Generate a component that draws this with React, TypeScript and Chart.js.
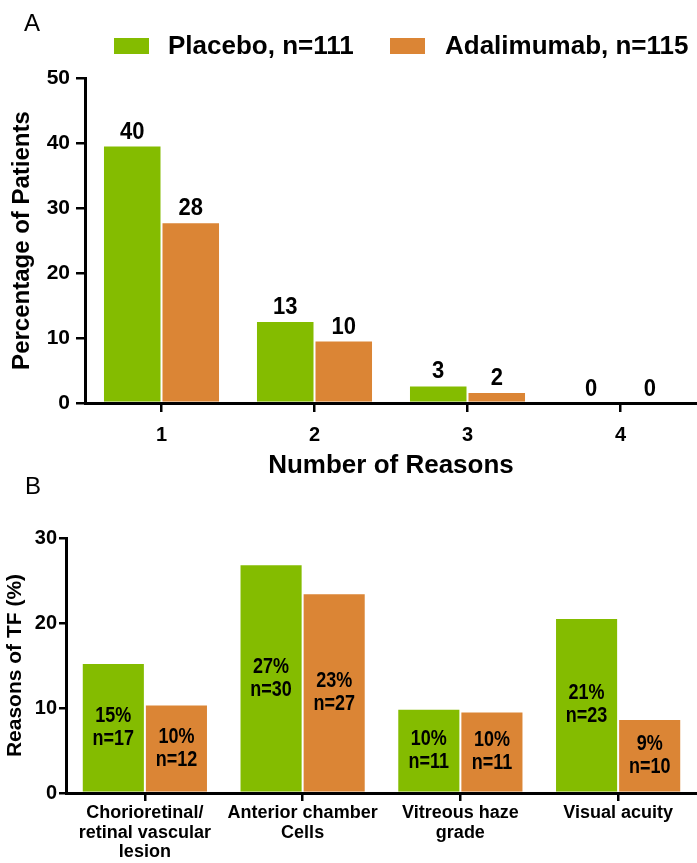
import React, { useEffect, useRef } from "react";
import { Chart, registerables } from "chart.js";
Chart.register(...registerables);

// ---------- Data ----------
const reasonCounts = ["1", "2", "3", "4"];
const placeboA = [39.6, 12.6, 2.7, 0];
const adalimumabA = [27.8, 9.6, 1.7, 0];
const placeboALabels = ["40", "13", "3", "0"];
const adalimumabALabels = ["28", "10", "2", "0"];

const tfReasons = [
  ["Chorioretinal/", "retinal vascular", "lesion"],
  ["Anterior chamber", "Cells"],
  ["Vitreous haze", "grade"],
  ["Visual acuity"],
];
const placeboB = [15.3, 26.9, 9.9, 20.6];
const adalimumabB = [10.4, 23.5, 9.6, 8.7];
const placeboBPct = ["15%", "27%", "10%", "21%"];
const placeboBN = ["n=17", "n=30", "n=11", "n=23"];
const adalimumabBPct = ["10%", "23%", "10%", "9%"];
const adalimumabBN = ["n=12", "n=27", "n=11", "n=10"];

const seriesNames = ["Placebo, n=111", "Adalimumab, n=115"];
const seriesColors = ["#84BC00", "#DB8535"];

const FAMILY = "'Liberation Sans', Arial, Helvetica, sans-serif";

function stretchedText(ctx: CanvasRenderingContext2D, text: string, x: number, y: number, font: string, sy: number) {
  ctx.save();
  ctx.translate(x, y);
  ctx.scale(1, sy);
  ctx.font = font;
  ctx.fillText(text, 0, 0);
  ctx.restore();
}

function PanelA() {
  const ref = useRef<HTMLCanvasElement | null>(null);
  useEffect(() => {
    const canvas = ref.current!;
    const labelsPlugin = {
      id: "labelsA",
      afterDatasetsDraw(chart: any) {
        const ctx = chart.ctx;
        ctx.save();
        ctx.fillStyle = "#000";
        ctx.textAlign = "center";
        ctx.textBaseline = "alphabetic";
        const texts = [placeboALabels, adalimumabALabels];
        chart.data.datasets.forEach((_: any, di: number) => {
          const meta = chart.getDatasetMeta(di);
          meta.data.forEach((bar: any, i: number) => {
            stretchedText(ctx, texts[di][i], bar.x, bar.y - 7, `bold 22px ${FAMILY}`, 1.1);
          });
        });
        ctx.restore();
      },
      afterDraw(chart: any) {
        const ctx = chart.ctx;
        ctx.save();
        ctx.fillStyle = "#000";
        ctx.textBaseline = "middle";
        ctx.textAlign = "left";
        ctx.font = `24px ${FAMILY}`;
        ctx.fillText("A", 24, 24);
        const boxX = [114, 390];
        const textX = [168, 445];
        ctx.font = `bold 26px ${FAMILY}`;
        for (let k = 0; k < 2; k++) {
          ctx.fillStyle = seriesColors[k];
          ctx.fillRect(boxX[k], 38, 35, 16);
          ctx.fillStyle = "#000";
          ctx.fillText(seriesNames[k], textX[k], 47);
        }
        ctx.restore();
      },
    };
    const chart = new Chart(canvas, {
      type: "bar",
      data: {
        labels: reasonCounts,
        datasets: [
          { label: seriesNames[0], data: placeboA, backgroundColor: seriesColors[0], borderColor: "rgba(255,255,255,0.45)", borderWidth: 1 },
          { label: seriesNames[1], data: adalimumabA, backgroundColor: seriesColors[1], borderColor: "rgba(255,255,255,0.45)", borderWidth: 1 },
        ],
      },
      options: {
        animation: false,
        responsive: false,
        maintainAspectRatio: false,
        events: [],
        layout: { padding: { top: 78, left: 0, right: 0, bottom: 0 } },
        datasets: { bar: { categoryPercentage: 0.765, barPercentage: 1 } },
        plugins: { legend: { display: false }, tooltip: { enabled: false } },
        scales: {
          x: {
            grid: { display: true, drawOnChartArea: false, drawTicks: true, tickLength: 9, color: "#000", lineWidth: 2.5, offset: false },
            border: { display: true, color: "#000", width: 3 },
            ticks: { color: "#000", font: { family: FAMILY, size: 20, weight: "bold" }, padding: 11 },
            title: { display: true, text: "Number of Reasons", color: "#000", font: { family: FAMILY, size: 26, weight: "bold", lineHeight: 0.7 }, padding: { top: 0, bottom: 0 } },
            afterFit: (s: any) => { s.height = 72; },
          },
          y: {
            min: 0,
            max: 50,
            ticks: { stepSize: 10, color: "#000", font: { family: FAMILY, size: 21, weight: "bold" }, padding: 6 },
            grid: { display: true, drawOnChartArea: false, drawTicks: true, tickLength: 9, color: "#000", lineWidth: 2.5 },
            border: { display: true, color: "#000", width: 3 },
            title: { display: true, text: "Percentage of Patients", color: "#000", font: { family: FAMILY, size: 24, weight: "bold" }, padding: { top: 8, bottom: 0 } },
            afterFit: (s: any) => { s.width = 85; },
          },
        },
      } as any,
      plugins: [labelsPlugin],
    });
    return () => chart.destroy();
  }, []);
  return <canvas ref={ref} width={697} height={475} style={{ display: "block", width: 697, height: 475 }} />;
}

function PanelB() {
  const ref = useRef<HTMLCanvasElement | null>(null);
  useEffect(() => {
    const canvas = ref.current!;
    const labelsPlugin = {
      id: "labelsB",
      afterDatasetsDraw(chart: any) {
        const ctx = chart.ctx;
        ctx.save();
        ctx.fillStyle = "#000";
        ctx.textAlign = "center";
        ctx.textBaseline = "middle";
        const pct = [placeboBPct, adalimumabBPct];
        const ns = [placeboBN, adalimumabBN];
        const font = `bold 18px ${FAMILY}`;
        chart.data.datasets.forEach((_: any, di: number) => {
          const meta = chart.getDatasetMeta(di);
          meta.data.forEach((bar: any, i: number) => {
            const mid = (bar.y + bar.base) / 2;
            stretchedText(ctx, pct[di][i], bar.x, mid - 11.5, font, 1.2);
            stretchedText(ctx, ns[di][i], bar.x, mid + 11.5, font, 1.2);
          });
        });
        ctx.restore();
      },
      afterDraw(chart: any) {
        const ctx = chart.ctx;
        ctx.save();
        ctx.fillStyle = "#000";
        ctx.textBaseline = "middle";
        ctx.textAlign = "left";
        ctx.font = `24px ${FAMILY}`;
        ctx.fillText("B", 25, 12);
        ctx.restore();
      },
    };
    const chart = new Chart(canvas, {
      type: "bar",
      data: {
        labels: tfReasons,
        datasets: [
          { label: seriesNames[0], data: placeboB, backgroundColor: seriesColors[0], borderColor: "rgba(255,255,255,0.45)", borderWidth: 1 },
          { label: seriesNames[1], data: adalimumabB, backgroundColor: seriesColors[1], borderColor: "rgba(255,255,255,0.45)", borderWidth: 1 },
        ],
      },
      options: {
        animation: false,
        responsive: false,
        maintainAspectRatio: false,
        events: [],
        layout: { padding: { top: 63, left: 0, right: 0, bottom: 0 } },
        datasets: { bar: { categoryPercentage: 0.8, barPercentage: 1 } },
        plugins: { legend: { display: false }, tooltip: { enabled: false } },
        scales: {
          x: {
            grid: { display: true, drawOnChartArea: false, drawTicks: true, tickLength: 8, color: "#000", lineWidth: 2.5, offset: false },
            border: { display: true, color: "#000", width: 3 },
            ticks: { color: "#000", font: { family: FAMILY, size: 18, weight: "bold", lineHeight: 1.1 }, padding: 2, maxRotation: 0, autoSkip: false },
            afterFit: (s: any) => { s.height = 70; },
          },
          y: {
            min: 0,
            max: 30,
            ticks: { stepSize: 10, color: "#000", font: { family: FAMILY, size: 20, weight: "bold" }, padding: 2 },
            grid: { display: true, drawOnChartArea: false, drawTicks: true, tickLength: 7, color: "#000", lineWidth: 2.5 },
            border: { display: true, color: "#000", width: 3 },
            title: { display: true, text: "Reasons of TF (%)", color: "#000", font: { family: FAMILY, size: 21, weight: "bold" }, padding: { top: 3, bottom: 0 } },
            afterFit: (s: any) => { s.width = 66; },
          },
        },
      } as any,
      plugins: [labelsPlugin],
    });
    return () => chart.destroy();
  }, []);
  return <canvas ref={ref} width={697} height={388} style={{ display: "block", width: 697, height: 388 }} />;
}

export default function App() {
  useEffect(() => {
    document.body.style.margin = "0";
    document.body.style.background = "#fff";
  }, []);
  return (
    <div style={{ width: 697, height: 863, background: "#fff" }}>
      <PanelA />
      <PanelB />
    </div>
  );
}
